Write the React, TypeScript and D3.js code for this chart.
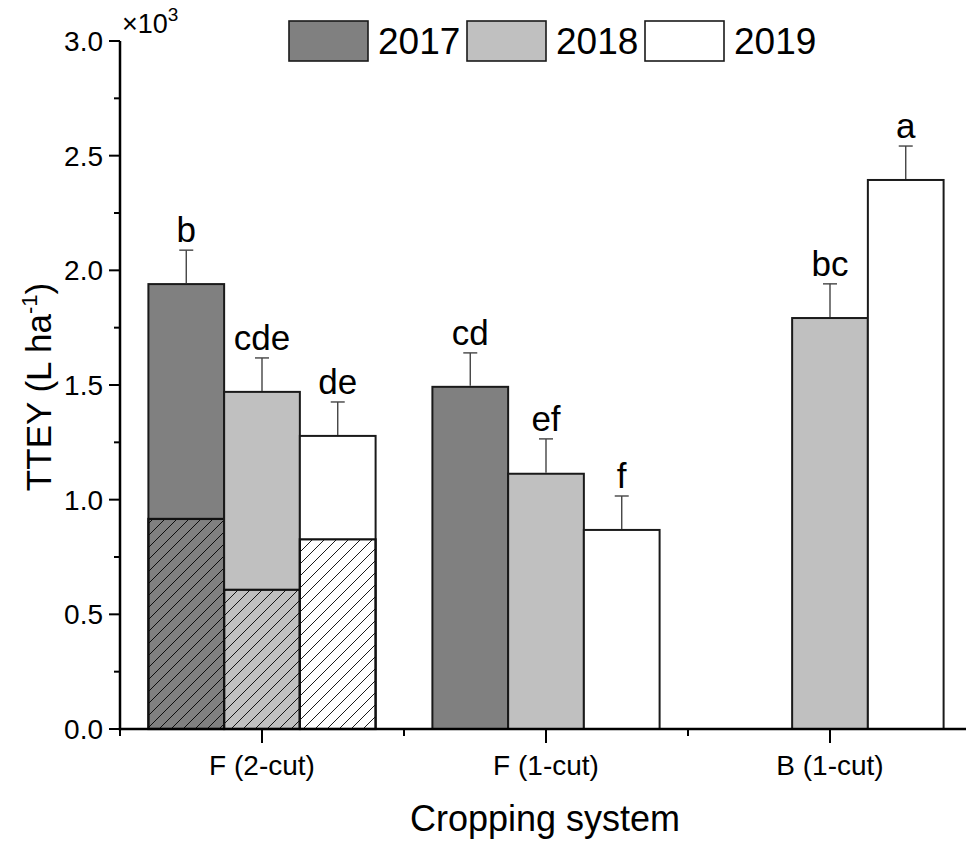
import { useEffect, useRef } from "react"
import * as d3 from "d3"

// TTEY by cropping system and year (L ha-1)
const systems = ["F (2-cut)", "F (1-cut)", "B (1-cut)"]
const years = ["2017", "2018", "2019"]
const tteyMean: Record<string, (number | null)[]> = {
  "2017": [1940, 1492, null],
  "2018": [1470, 1113, 1792],
  "2019": [1278, 868, 2394],
}
const tteyErr: Record<string, (number | null)[]> = {
  "2017": [148, 148, null],
  "2018": [148, 152, 149],
  "2019": [148, 148, 148],
}
// first-cut share (hatched part), only for the 2-cut system
const firstCut: Record<string, (number | null)[]> = {
  "2017": [916, null, null],
  "2018": [607, null, null],
  "2019": [827, null, null],
}
const letters: Record<string, string[]> = {
  "2017": ["b", "cd", ""],
  "2018": ["cde", "ef", "bc"],
  "2019": ["de", "f", "a"],
}
const yTicks = [0, 500, 1000, 1500, 2000, 2500, 3000]
const colors: Record<string, string> = { "2017": "#808080", "2018": "#c0c0c0", "2019": "#ffffff" }

const W = 966
const H = 842
const FONT = "'Liberation Sans', Arial, Helvetica, sans-serif"

export default function App() {
  const svgRef = useRef<SVGSVGElement>(null)

  useEffect(() => {
    const svg = d3.select(svgRef.current)
    svg.selectAll("*").remove()

    const left = 120
    const right = 972
    const x0 = d3.scaleBand<string>().domain(systems).range([left, right]).paddingInner(0.2).paddingOuter(0.1)
    const x1 = d3.scaleBand<string>().domain(years).range([0, x0.bandwidth()])
    const y = d3.scaleLinear().domain([0, 3000]).range([729, 41])
    const step = x0.step()

    // hatch pattern
    const defs = svg.append("defs")
    const pat = defs
      .append("pattern")
      .attr("id", "hatch")
      .attr("patternUnits", "userSpaceOnUse")
      .attr("width", 12)
      .attr("height", 12)
    pat
      .append("path")
      .attr("d", "M-1,1 l2,-2 M0,12 l12,-12 M11,13 l2,-2")
      .attr("stroke", "#000")
      .attr("stroke-width", 0.9)

    const g = svg.append("g")

    years.forEach((yr) => {
      systems.forEach((sys, i) => {
        const v = tteyMean[yr][i]
        if (v == null) return
        const bx = (x0(sys) as number) + (x1(yr) as number)
        const bw = x1.bandwidth()
        const cx = bx + bw / 2

        g.append("rect")
          .attr("x", bx)
          .attr("y", y(v))
          .attr("width", bw)
          .attr("height", y(0) - y(v))
          .attr("fill", colors[yr])
          .attr("stroke", "#1a1a1a")
          .attr("stroke-width", 2)

        const fc = firstCut[yr][i]
        if (fc != null) {
          g.append("rect")
            .attr("x", bx)
            .attr("y", y(fc))
            .attr("width", bw)
            .attr("height", y(0) - y(fc))
            .attr("fill", "url(#hatch)")
            .attr("stroke", "#111")
            .attr("stroke-width", 2.2)
        }

        const e = tteyErr[yr][i] ?? 0
        const top = y(v + e)
        g.append("line")
          .attr("x1", cx)
          .attr("x2", cx)
          .attr("y1", y(v) - 1)
          .attr("y2", top)
          .attr("stroke", "#444")
          .attr("stroke-width", 1.4)
        g.append("line")
          .attr("x1", cx - 7)
          .attr("x2", cx + 7)
          .attr("y1", top)
          .attr("y2", top)
          .attr("stroke", "#444")
          .attr("stroke-width", 1.4)

        g.append("text")
          .attr("x", cx)
          .attr("y", top - 8)
          .attr("text-anchor", "middle")
          .attr("font-family", FONT)
          .attr("font-size", 35)
          .attr("fill", "#000")
          .text(letters[yr][i])
      })
    })

    // axes
    const ax = svg.append("g").attr("stroke", "#000")
    ax.append("line")
      .attr("x1", left)
      .attr("x2", left)
      .attr("y1", y(3000))
      .attr("y2", y(0) + 1.2)
      .attr("stroke-width", 2.5)
    ax.append("line")
      .attr("x1", left - 1.2)
      .attr("x2", W)
      .attr("y1", y(0))
      .attr("y2", y(0))
      .attr("stroke-width", 2.5)

    // y ticks (major + minor)
    d3.range(0, 3001, 250).forEach((t) => {
      const major = t % 500 === 0
      ax.append("line")
        .attr("x1", left)
        .attr("x2", left - (major ? 11 : 6))
        .attr("y1", y(t))
        .attr("y2", y(t))
        .attr("stroke-width", 2)
    })
    svg
      .append("g")
      .selectAll("text")
      .data(yTicks)
      .join("text")
      .attr("x", 103)
      .attr("y", (d) => y(d) + 10)
      .attr("text-anchor", "end")
      .attr("font-family", FONT)
      .attr("font-size", 28)
      .text((d) => (d / 1000).toFixed(1))

    // x ticks
    systems.forEach((sys) => {
      const c = (x0(sys) as number) + x0.bandwidth() / 2
      ax.append("line").attr("x1", c).attr("x2", c).attr("y1", y(0)).attr("y2", y(0) + 14).attr("stroke-width", 2)
      ;[c - step / 2, c + step / 2].forEach((m) => {
        ax.append("line").attr("x1", m).attr("x2", m).attr("y1", y(0)).attr("y2", y(0) + 7).attr("stroke-width", 2)
      })
      svg
        .append("text")
        .attr("x", c)
        .attr("y", 775)
        .attr("text-anchor", "middle")
        .attr("font-family", FONT)
        .attr("font-size", 28)
        .text(sys)
    })

    // multiplier
    const mult = svg.append("text").attr("x", 122).attr("y", 33).attr("font-family", FONT).attr("font-size", 27)
    mult.append("tspan").text("×10")
    mult.append("tspan").attr("font-size", 19).attr("dy", -12).text("3")

    // axis titles
    svg
      .append("text")
      .attr("x", 545)
      .attr("y", 831)
      .attr("text-anchor", "middle")
      .attr("font-family", FONT)
      .attr("font-size", 36)
      .text("Cropping system")

    const yt = svg
      .append("text")
      .attr("transform", `translate(51,387) rotate(-90)`)
      .attr("text-anchor", "middle")
      .attr("font-family", FONT)
      .attr("font-size", 35)
    yt.append("tspan").text("TTEY (L ha")
    yt.append("tspan").attr("font-size", 22).attr("dy", -14).text("-1")
    yt.append("tspan").attr("dy", 14).text(")")

    // legend
    const lg = svg.append("g")
    years.forEach((yr, i) => {
      const lx = 289 + i * 178
      lg.append("rect")
        .attr("x", lx)
        .attr("y", 21)
        .attr("width", 79)
        .attr("height", 40)
        .attr("fill", colors[yr])
        .attr("stroke", "#1a1a1a")
        .attr("stroke-width", 1.6)
      lg.append("text")
        .attr("x", lx + 89)
        .attr("y", 54)
        .attr("font-family", FONT)
        .attr("font-size", 37)
        .text(yr)
    })
  }, [])

  return (
    <svg
      ref={svgRef}
      width={W}
      height={H}
      style={{ position: "absolute", left: 0, top: 0, background: "#fff" }}
    />
  )
}
